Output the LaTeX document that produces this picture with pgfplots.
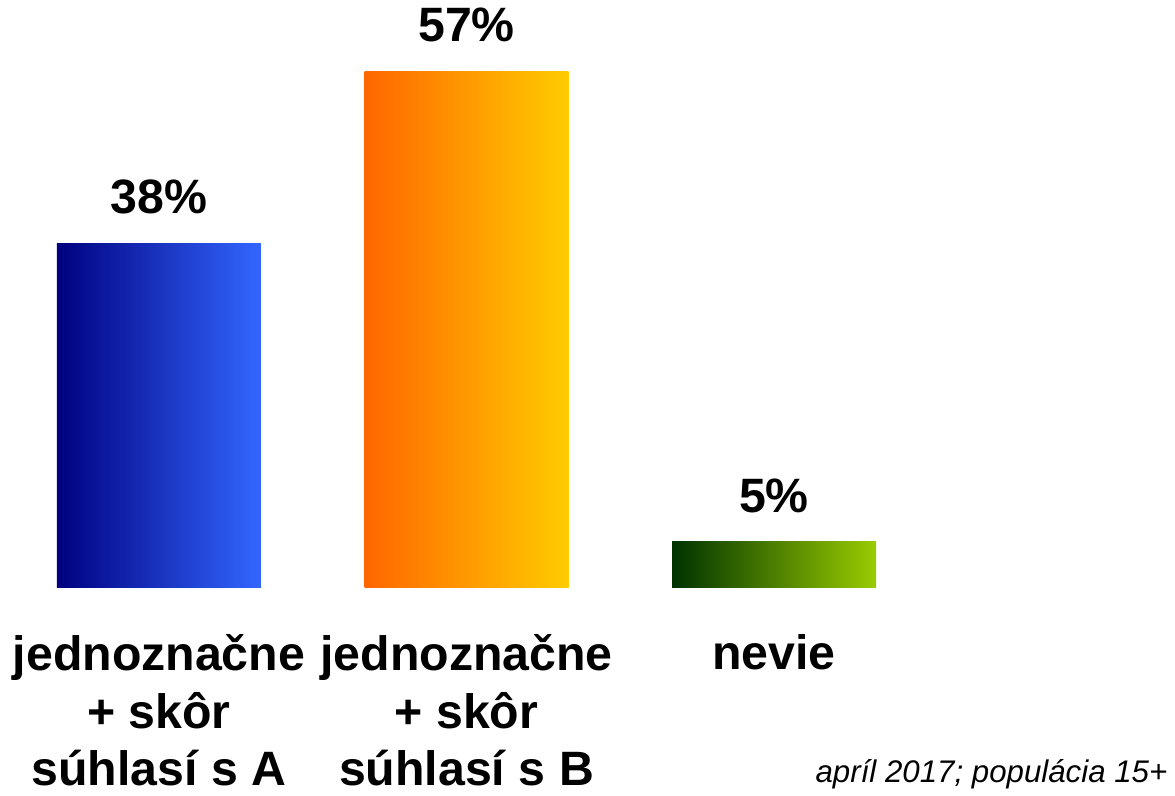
\documentclass[border=0pt]{standalone}
\usepackage{fontspec}
\setmainfont{Liberation Sans}
\usepackage{pgfplots}
\pgfplotsset{compat=1.18}
\definecolor{aL}{HTML}{000080}
\definecolor{aR}{HTML}{3366FF}
\definecolor{bL}{HTML}{FF6600}
\definecolor{bR}{HTML}{FFCC00}
\definecolor{cL}{HTML}{003300}
\definecolor{cR}{HTML}{99CC00}
\newcommand{\lblfont}{\fontsize{19.3}{23}\selectfont\bfseries}

\begin{document}
\begin{tikzpicture}
\begin{axis}[
  scale only axis,
  width=470pt, height=318pt,
  xmin=-0.517, xmax=3.304,
  ymin=-22.98, ymax=64.86,
  ybar, bar width=81.6pt,
  axis line style={draw=none},
  xtick={0,1,2},
  xticklabels={{jednoznačne\\+ skôr\\súhlasí s A},{jednoznačne\\+ skôr\\súhlasí s B},{nevie}},
  xtick style={draw=none},
  ytick=\empty,
  xticklabel style={font=\lblfont, align=center, anchor=north, inner sep=0pt, yshift=68.6pt},
  nodes near coords={\pgfmathprintnumber{\pgfplotspointmeta}\%},
  every node near coord/.append style={font=\lblfont, anchor=base, inner sep=0pt, yshift=11.8pt,
    /pgf/number format/assume math mode=true},
  clip=false,
]
\addplot[bar shift=0pt, draw=none, left color=aL, right color=aR] coordinates {(0,38)};
\addplot[bar shift=0pt, draw=none, left color=bL, right color=bR] coordinates {(1,57)};
\addplot[bar shift=0pt, draw=none, left color=cL, right color=cR] coordinates {(2,5)};
\coordinate (bl) at (rel axis cs:0,0);
\coordinate (tr) at (rel axis cs:1,1);
\node[anchor=base east, font=\fontsize{12.5}{15}\selectfont\itshape, inner sep=0pt] at (axis cs:3.281,-21.55) {apríl 2017; populácia 15+};
\end{axis}
\pgfresetboundingbox
\path[use as bounding box] (bl) rectangle (tr);
\end{tikzpicture}
\end{document}
